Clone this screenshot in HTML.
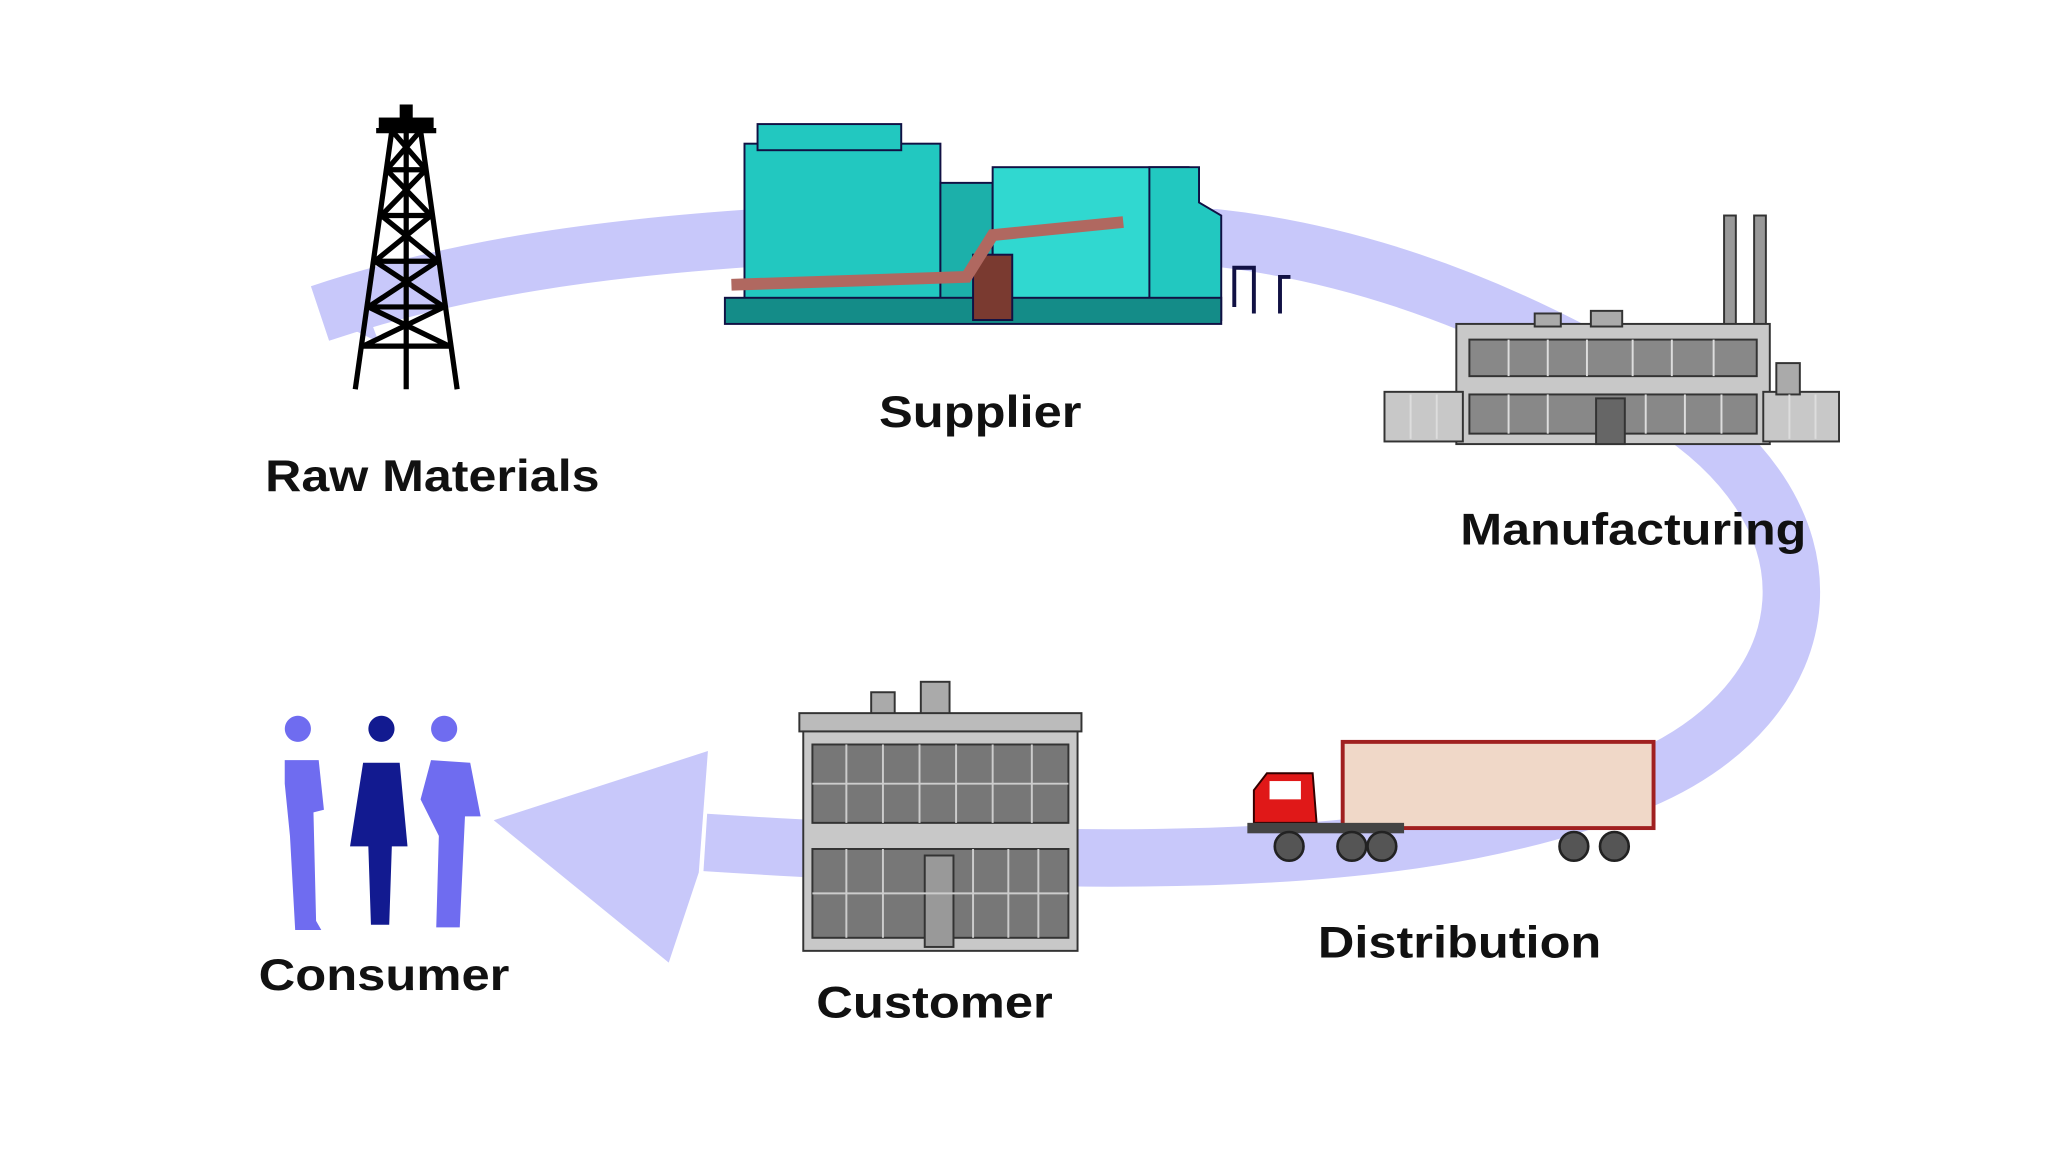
<!DOCTYPE html>
<html><head><meta charset="utf-8"><style>
html,body{margin:0;padding:0;background:#fff;width:2048px;height:1152px;overflow:hidden}
svg{display:block}
text{font-family:"Liberation Sans",Arial,sans-serif;font-weight:bold;font-size:34px;fill:#111}
</style></head><body>
<svg width="2048" height="1152" viewBox="0 0 1568 882" preserveAspectRatio="none">
<rect width="1568" height="882" fill="#fff"/>
<path d="M245,240 C350,205 460,190 580,182 L930,182 C1050,195 1160,240 1260,300 C1420,390 1400,540 1250,600 C1100,660 900,668 540,645" fill="none" stroke="#c8c8fa" stroke-width="44"/>
<polygon points="245,240 275,222 290,262" fill="#c8c8fa"/>
<polygon points="542,575 378,628 512,737 535,668" fill="#c8c8fa"/>
<g stroke="#000" stroke-width="4" fill="none">
<line x1="300" y1="100" x2="272" y2="298"/><line x1="322" y1="100" x2="350" y2="298"/>
<line x1="311" y1="82" x2="311" y2="298"/>
<line x1="288" y1="100" x2="334" y2="100"/>
<line x1="296" y1="130" x2="326" y2="130"/><line x1="292" y1="165" x2="330" y2="165"/>
<line x1="287" y1="200" x2="335" y2="200"/><line x1="282" y1="235" x2="340" y2="235"/>
<line x1="278" y1="265" x2="344" y2="265"/>
<path d="M300,100 L326,130 M322,100 L296,130 M296,130 L330,165 M326,130 L292,165 M292,165 L335,200 M330,165 L287,200 M287,200 L340,235 M335,200 L282,235 M282,235 L344,265 M340,235 L278,265"/>
</g>
<rect x="306" y="80" width="10" height="20" fill="#000"/><rect x="290" y="90" width="42" height="8" fill="#000"/>
<g stroke="#114" stroke-width="1.5">
<rect x="570" y="110" width="150" height="135" fill="#22c8c0"/>
<rect x="580" y="95" width="110" height="20" fill="#22c8c0"/>
<rect x="720" y="140" width="40" height="105" fill="#1cb0aa"/>
<rect x="760" y="128" width="150" height="117" fill="#30d8d0"/>
<polygon points="880,128 918,128 918,155 935,165 935,245 880,245" fill="#22c8c0"/>
<rect x="555" y="228" width="380" height="20" fill="#148c88"/>
<rect x="745" y="195" width="30" height="50" fill="#7a3a30"/>
</g>
<path d="M560,218 L740,212 L760,180 L860,170" fill="none" stroke="#b06860" stroke-width="9"/>
<path d="M945,235 L945,205 L960,205 L960,240 M980,240 L980,212 L988,212" fill="none" stroke="#114" stroke-width="3"/>
<g stroke="#333" stroke-width="1.5">
<rect x="1320" y="165" width="9" height="95" fill="#999"/><rect x="1343" y="165" width="9" height="95" fill="#999"/>
<rect x="1115" y="248" width="240" height="92" fill="#c8c8c8"/>
<rect x="1060" y="300" width="60" height="38" fill="#c8c8c8"/><rect x="1350" y="300" width="58" height="38" fill="#c8c8c8"/>
<rect x="1175" y="240" width="20" height="10" fill="#aaa"/><rect x="1218" y="238" width="24" height="12" fill="#aaa"/>
<rect x="1360" y="278" width="18" height="24" fill="#aaa"/>
<rect x="1125" y="260" width="220" height="28" fill="#888"/>
<rect x="1125" y="302" width="220" height="30" fill="#888"/>
<rect x="1222" y="305" width="22" height="35" fill="#666"/>
</g>
<g stroke="#ddd" stroke-width="1.5"><path d="M1155,260v28M1185,260v28M1215,260v28M1250,260v28M1280,260v28M1312,260v28M1155,302v30M1185,302v30M1260,302v30M1290,302v30M1318,302v30M1080,302v34M1100,302v34M1370,302v34M1390,302v34"/></g>
<rect x="1028" y="568" width="238" height="66" fill="#f0d8c8" stroke="#a02020" stroke-width="3"/>
<path d="M960,630 L960,605 L970,592 L1005,592 L1008,630 Z" fill="#e01818" stroke="#300" stroke-width="1.5"/>
<rect x="972" y="598" width="24" height="14" fill="#fff"/>
<rect x="955" y="630" width="120" height="8" fill="#444"/>
<g fill="#555" stroke="#222" stroke-width="2"><circle cx="987" cy="648" r="11"/><circle cx="1035" cy="648" r="11"/><circle cx="1058" cy="648" r="11"/><circle cx="1205" cy="648" r="11"/><circle cx="1236" cy="648" r="11"/></g>
<g stroke="#333" stroke-width="1.5">
<rect x="667" y="530" width="18" height="18" fill="#aaa"/><rect x="705" y="522" width="22" height="26" fill="#aaa"/>
<rect x="612" y="546" width="216" height="14" fill="#bbb"/>
<rect x="615" y="560" width="210" height="168" fill="#c8c8c8"/>
<rect x="622" y="570" width="196" height="60" fill="#777"/>
<rect x="622" y="650" width="196" height="68" fill="#777"/>
<rect x="708" y="655" width="22" height="70" fill="#999"/>
</g>
<g stroke="#ccc" stroke-width="1.5"><path d="M648,570v60M676,570v60M704,570v60M732,570v60M760,570v60M790,570v60M622,600h196M648,650v68M676,650v68M745,650v68M772,650v68M795,650v68M622,684h196"/></g>
<g>
<path d="M228,568 a10,10 0 1,1 .1,0 Z M218,582 L244,582 L248,620 L240,622 L242,705 L246,712 L226,712 L222,640 L218,600 Z" fill="#6f6cf0"/>
<path d="M292,568 a10,10 0 1,1 .1,0 Z M278,584 L306,584 L312,648 L300,648 L298,708 L284,708 L282,648 L268,648 Z" fill="#121a90"/>
<path d="M340,568 a10,10 0 1,1 .1,0 Z M330,582 L360,584 L368,625 L356,625 L352,710 L334,710 L336,640 L322,612 Z" fill="#6f6cf0"/>
</g>
<text x="203" y="376" textLength="256" lengthAdjust="spacingAndGlyphs">Raw Materials</text>
<text x="673" y="327" textLength="155" lengthAdjust="spacingAndGlyphs">Supplier</text>
<text x="1118" y="417" textLength="265" lengthAdjust="spacingAndGlyphs">Manufacturing</text>
<text x="1009" y="733" textLength="217" lengthAdjust="spacingAndGlyphs">Distribution</text>
<text x="625" y="779" textLength="181" lengthAdjust="spacingAndGlyphs">Customer</text>
<text x="198" y="758" textLength="192" lengthAdjust="spacingAndGlyphs">Consumer</text>
</svg>
</body></html>
